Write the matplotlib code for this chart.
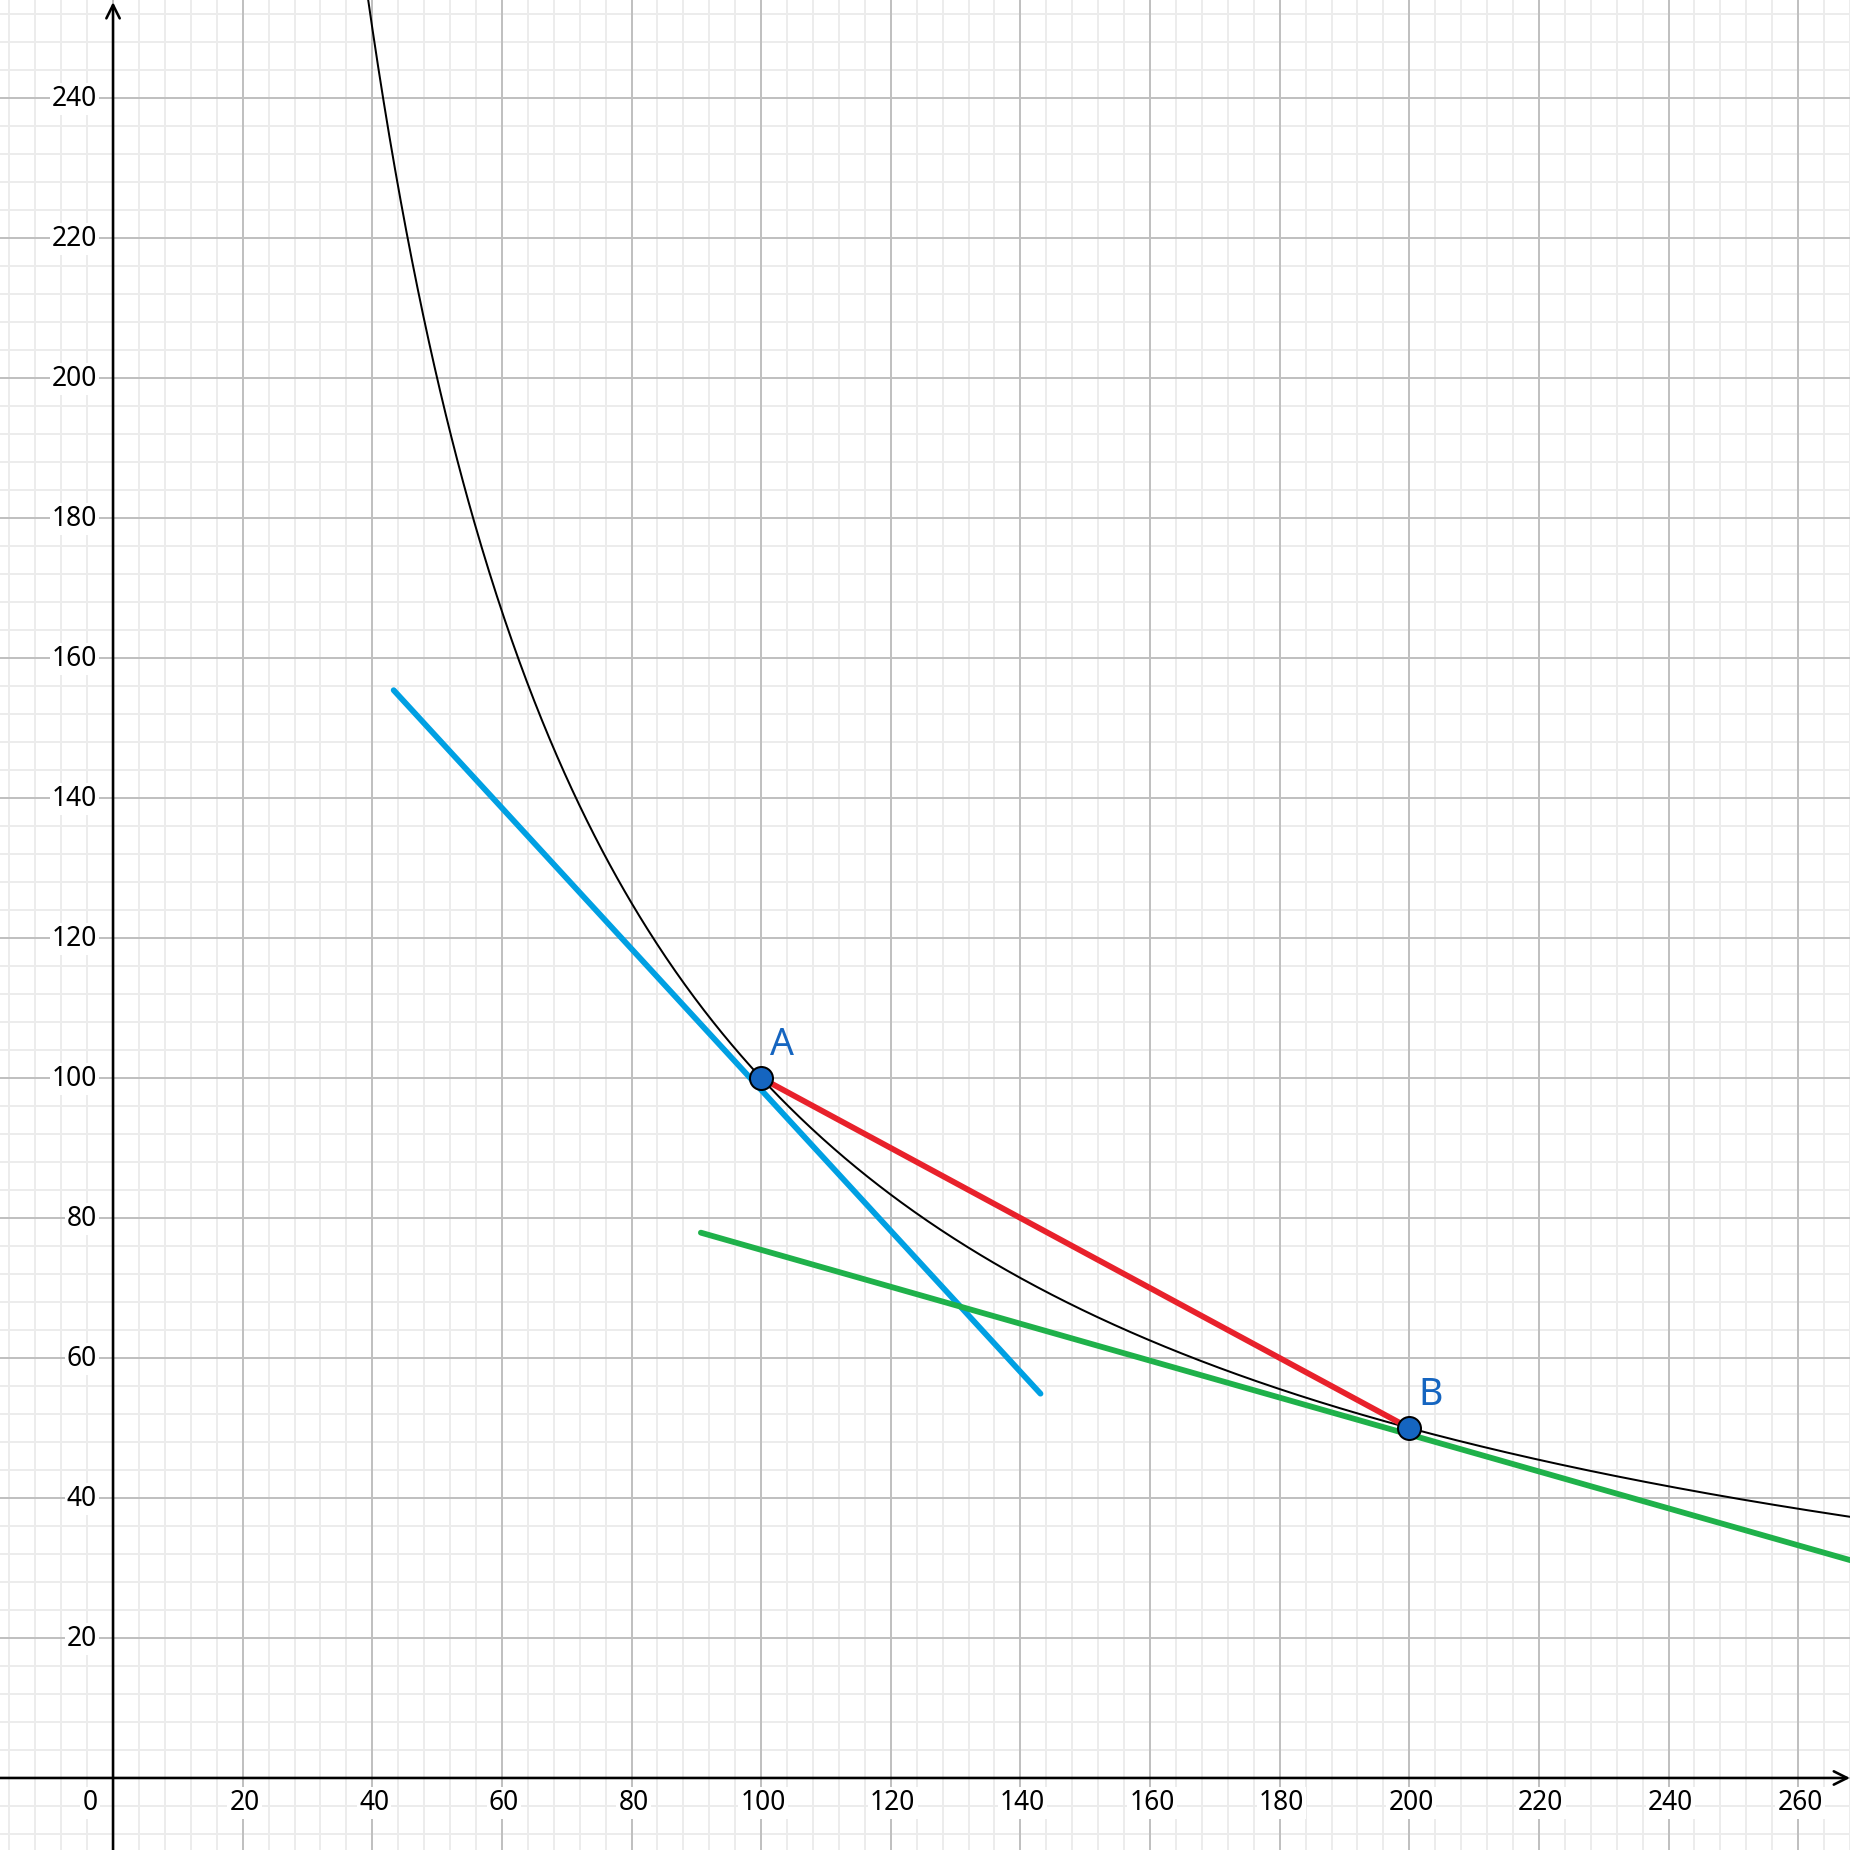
import numpy as np
import matplotlib
matplotlib.use("Agg")
import matplotlib.pyplot as plt

plt.rcParams['font.family'] = ['Noto Sans', 'DejaVu Sans']

# curve xy = K, points on it
K = 10000
A = (100, 100)
B = (200, 50)

# segments
blue_x = [43.3, 143.1]
blue_y = [155.4, 54.9]
green_x = [90.7, 270.0]
green_y = [77.9, 30.6]
red_x = [A[0], B[0]]
red_y = [A[1], B[1]]

xticks = list(range(20, 261, 20))
yticks = list(range(20, 241, 20))

xmin, xmax = -17.44, 268.0
ymin, ymax = -10.29, 254.0

DPI = 100
fig = plt.figure(figsize=(18.5, 18.5), dpi=DPI)
ax = fig.add_axes([0, 0, 1, 1])
ax.set_xlim(xmin, xmax)
ax.set_ylim(ymin, ymax)
ax.axis("off")

px = 72 / DPI  # one pixel in points

# grid
for v in np.arange(-16, 272, 4):
    major = v % 20 == 0
    ax.axvline(v, color="#c0c0c0" if major else "#ececec", lw=2 * px, zorder=1 if major else 0)
for v in np.arange(-8, 256, 4):
    major = v % 20 == 0
    ax.axhline(v, color="#c0c0c0" if major else "#ececec", lw=2 * px, zorder=1 if major else 0)

# axes with arrow heads
ax.annotate("", xy=(xmax, 0), xytext=(xmin, 0),
            arrowprops=dict(arrowstyle="->", lw=2.6 * px, color="black",
                            mutation_scale=24, shrinkA=0, shrinkB=0), zorder=3)
ax.annotate("", xy=(0, ymax - 0.3), xytext=(0, ymin),
            arrowprops=dict(arrowstyle="->", lw=2.6 * px, color="black",
                            mutation_scale=24, shrinkA=0, shrinkB=0), zorder=3)

# tick labels
fs = 19
box = dict(facecolor="white", edgecolor="none", pad=1.5)
for t in xticks:
    ax.annotate(str(t), xy=(t, 0), xytext=(2, -25), textcoords="offset pixels",
                ha="center", va="center", fontsize=fs, bbox=box, zorder=2)
for t in yticks:
    ax.annotate(str(t), xy=(0, t), xytext=(-16, -1), textcoords="offset pixels",
                ha="right", va="center", fontsize=fs, bbox=box, zorder=2)
ax.annotate("0", xy=(0, 0), xytext=(-23, -25), textcoords="offset pixels",
            ha="center", va="center", fontsize=fs, bbox=box, zorder=2)

# hyperbola
xs = np.linspace(38, 270, 800)
ax.plot(xs, K / xs, color="black", lw=2 * px, zorder=4)

# lines
lw = 5.8 * px
ax.plot(blue_x, blue_y, color="#00a0e3", lw=lw, solid_capstyle="round", zorder=5)
ax.plot(green_x, green_y, color="#1fb14a", lw=lw, solid_capstyle="round", zorder=5)
ax.plot(red_x, red_y, color="#e8212b", lw=lw, solid_capstyle="round", zorder=5)

# points
for (x, y), name in [(A, "A"), (B, "B")]:
    ax.plot(x, y, "o", ms=23 * px, mfc="#1565c0", mec="black", mew=2 * px, zorder=6)
    ax.annotate(name, xy=(x, y), xytext=(21, 33), textcoords="offset pixels",
                ha="center", va="center", fontsize=27, color="#1565c0", zorder=6)

fig.savefig("out.png", dpi=DPI)
